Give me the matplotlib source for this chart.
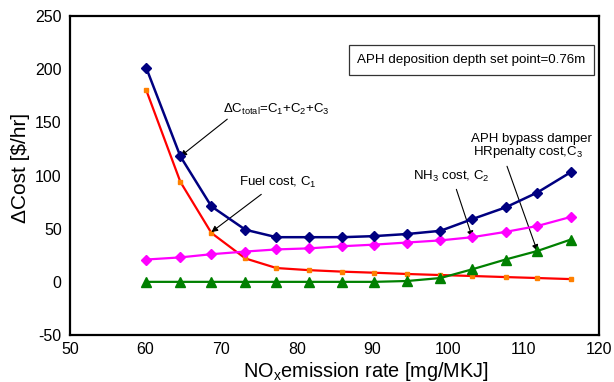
import matplotlib
matplotlib.use("Agg")
import matplotlib.pyplot as plt

plt.rcParams['font.family'] = ['Liberation Sans', 'DejaVu Sans']
plt.rcParams['mathtext.fontset'] = 'custom'
plt.rcParams['mathtext.rm'] = 'Liberation Sans'
plt.rcParams['axes.unicode_minus'] = False

nox = [60.1, 64.6, 68.7, 73.2, 77.3, 81.6, 86.0, 90.2, 94.6, 99.0, 103.2, 107.6, 111.8, 116.2]
total = [201, 118, 71, 49, 42, 42, 42, 43, 45, 48, 59, 70, 84, 103]
fuel = [180, 94, 46, 22, 13, 11, 9.6, 8.6, 7.4, 6.4, 5.5, 4.5, 3.6, 2.6]
nh3 = [21, 23, 26, 28.5, 30.5, 31.5, 33.5, 35, 37, 39, 42, 47, 52.5, 61]
aph = [0, 0, 0, 0, 0, 0, 0, 0, 0.8, 3.6, 11.8, 21, 29, 39.7]

fig = plt.figure(figsize=(6.14, 3.82), dpi=100)
ax = fig.add_axes([0.114, 0.123, 0.862, 0.835])

ax.plot(nox, fuel, color='#FF0000', lw=1.6, marker='s', ms=3, mfc='#FF8000', mec='#FF8000', zorder=3)
ax.plot(nox, aph, color='#008000', lw=1.6, marker='^', ms=6.5, zorder=4)
ax.plot(nox, nh3, color='#FF00FF', lw=1.6, marker='D', ms=5.5, zorder=4)
ax.plot(nox, total, color='#000080', lw=1.8, marker='D', ms=5.5, zorder=5)

ax.set_xlim(50, 120)
ax.set_ylim(-50, 250)
ax.set_xticks(range(50, 121, 10))
ax.set_yticks(range(-50, 251, 50))
ax.tick_params(length=0, labelsize=11.5, pad=6)
ax.tick_params(axis='x', pad=5)
for s in ax.spines.values():
    s.set_linewidth(1.6)

ax.set_xlabel(r'NO$_\mathregular{x}$emission rate [mg/MKJ]', fontsize=14.3)
ax.set_ylabel(r'ΔCost [\$/hr]', fontsize=15)
ax.xaxis.set_label_coords(0.559, -0.113, transform=ax.transAxes)
ax.yaxis.set_label_coords(-0.093, 0.525, transform=ax.transAxes)
ax.xaxis.label.set_va('center')
ax.yaxis.label.set_va('center')

ap = dict(arrowstyle='-|>', color='black', lw=0.8, mutation_scale=9, shrinkA=0, shrinkB=0)
fs = 9.5
ax.text(70.2, 162, r'ΔC$_\mathregular{total}$=C$_\mathregular{1}$+C$_\mathregular{2}$+C$_\mathregular{3}$', fontsize=fs, va='center')
ax.annotate('', xy=(64.6, 118), xytext=(70.8, 153), arrowprops=ap)
ax.text(72.4, 93.6, r'Fuel cost, C$_\mathregular{1}$', fontsize=fs, va='center')
ax.annotate('', xy=(68.7, 46.8), xytext=(75.3, 82.3), arrowprops=ap)
ax.text(95.4, 99.2, r'NH$_\mathregular{3}$ cost, C$_\mathregular{2}$', fontsize=fs, va='center')
ax.annotate('', xy=(103.2, 42), xytext=(101.1, 87), arrowprops=ap)
ax.text(103.1, 134, 'APH bypass damper', fontsize=fs, va='center')
ax.text(103.3, 121.8, r'HRpenalty cost,C$_\mathregular{3}$', fontsize=fs, va='center')
ax.annotate('', xy=(111.8, 29), xytext=(107.8, 108.7), arrowprops=ap)

ax.text(0.543, 0.862, 'APH deposition depth set point=0.76m', transform=ax.transAxes,
        fontsize=9.6, va='center', ha='left',
        bbox=dict(boxstyle='square,pad=0.65', fc='white', ec='#333333', lw=0.9))

fig.savefig('out.png', dpi=100)
